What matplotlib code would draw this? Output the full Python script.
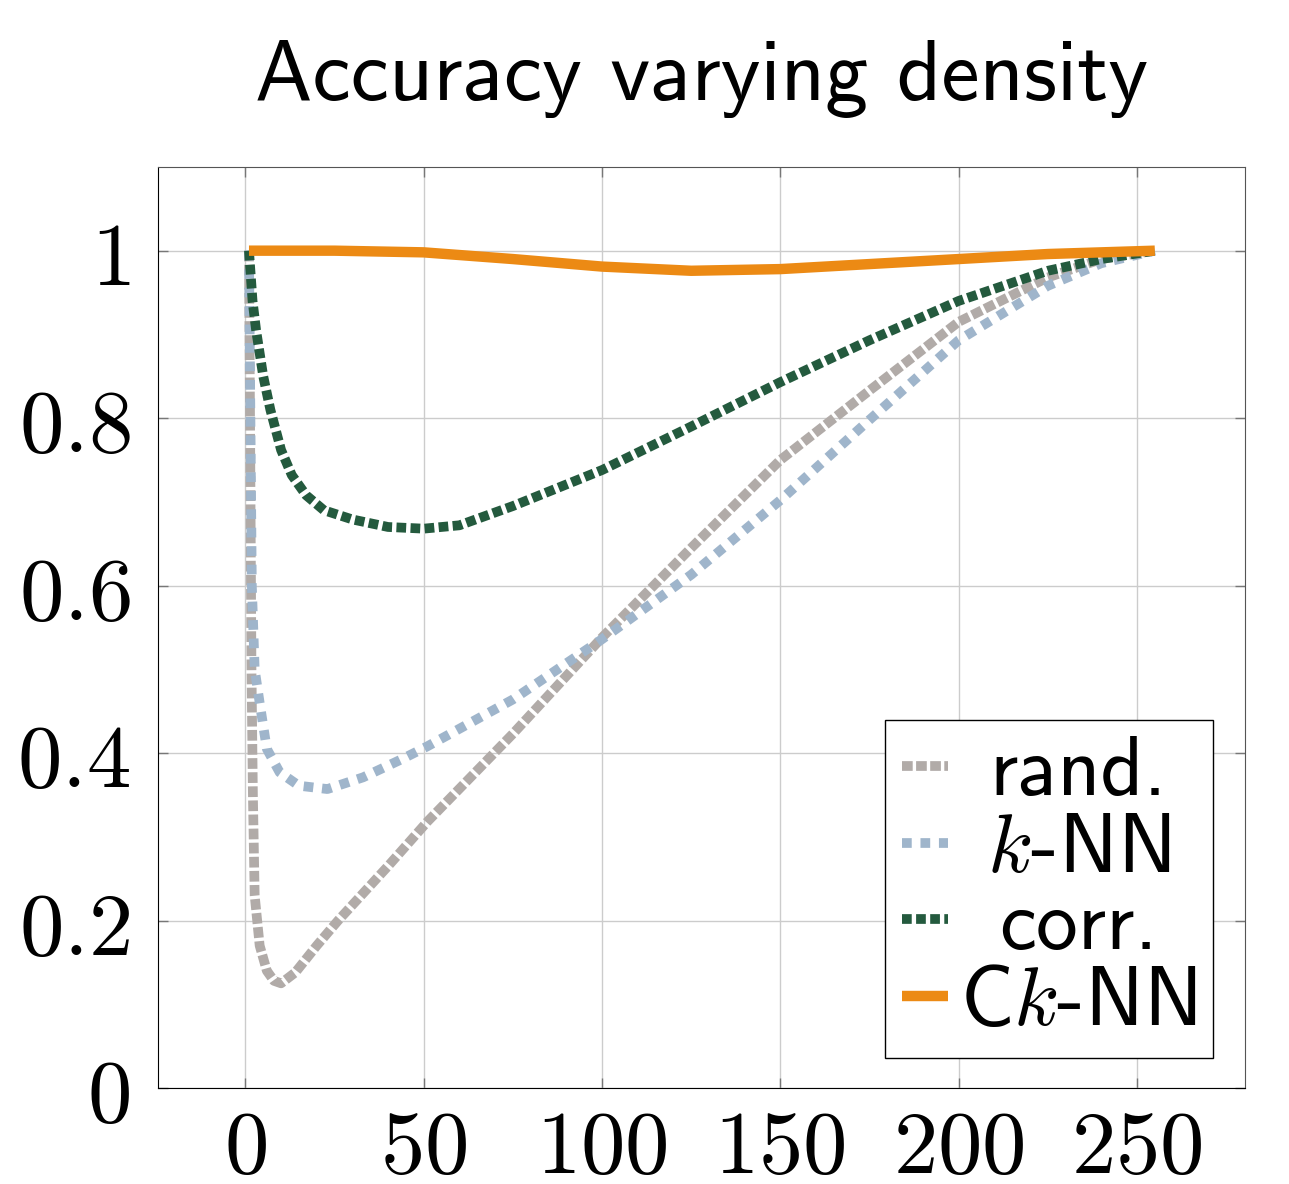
#!/usr/bin/env python3

"""Accuracy vs. density plot."""

import matplotlib
matplotlib.use('Agg')
import matplotlib.pyplot as plt
from matplotlib.ticker import FuncFormatter

# values
rand_x = [1, 1.3, 1.7, 2.1, 2.6, 4, 6, 8, 10, 14, 20, 26, 40, 51, 75, 100, 125, 150, 175, 200, 225, 240, 255]
rand_y = [1.0, 0.8, 0.5, 0.35, 0.23, 0.17, 0.14, 0.128, 0.125, 0.138, 0.17, 0.2, 0.265, 0.318, 0.423, 0.538,
          0.645, 0.75, 0.833, 0.915, 0.968, 0.99, 1.0]

knn_x = [1, 1.3, 1.8, 2.6, 4, 6, 9.6, 15, 23, 33, 44, 51, 75, 100, 125, 150, 175, 200, 225, 240, 255]
knn_y = [1.0, 0.85, 0.6, 0.5, 0.46, 0.405, 0.377, 0.361, 0.357, 0.371, 0.393, 0.408, 0.464, 0.536,
         0.613, 0.702, 0.798, 0.893, 0.958, 0.985, 1.0]

corr_x = [1, 2, 3, 5, 7, 10, 13, 17, 22, 30, 40, 50, 60, 75, 100, 125, 150, 175, 200, 225, 240, 255]
corr_y = [1.0, 0.94, 0.905, 0.85, 0.81, 0.762, 0.732, 0.708, 0.69, 0.679, 0.67, 0.668, 0.672, 0.695, 0.738,
          0.79, 0.843, 0.893, 0.94, 0.976, 0.99, 1.0]

cknn_x = [1, 25, 50, 75, 100, 125, 150, 175, 200, 225, 255]
cknn_y = [1.0, 1.0, 0.998, 0.99, 0.981, 0.976, 0.978, 0.984, 0.99, 0.996, 1.0]

labels = ['rand.', '$k$-NN', 'corr.', 'C$k$-NN']
colors = ['#b1aba8', '#9fb5cb', '#245a3e', '#ec8a14']
xticks = [0, 50, 100, 150, 200, 250]
yticks = [0, 0.2, 0.4, 0.6, 0.8, 1]


def main():
    plt.rcParams['mathtext.fontset'] = 'cm'

    fig = plt.figure(figsize=(12.89, 11.84), dpi=100)
    ax = fig.add_axes([0.1226, 0.0811, 0.8433, 0.7779])

    ax.plot(rand_x, rand_y, color=colors[0], lw=7, dashes=(1.1, 0.35), dash_capstyle='butt', label=labels[0])
    ax.plot(knn_x, knn_y, color=colors[1], lw=7, dashes=(1.0, 0.9), dash_capstyle='butt', label=labels[1])
    ax.plot(corr_x, corr_y, color=colors[2], lw=7, dashes=(1.0, 0.45), dash_capstyle='butt', label=labels[2])
    ax.plot(cknn_x, cknn_y, color=colors[3], lw=7.5, solid_capstyle='butt', label=labels[3])

    ax.set_xlim(-24.5, 280.3)
    ax.set_ylim(0, 1.1)
    ax.set_xticks(xticks)
    ax.set_yticks(yticks)
    ax.xaxis.set_major_formatter(FuncFormatter(lambda v, p: f'${v:g}$'))
    ax.yaxis.set_major_formatter(FuncFormatter(lambda v, p: f'${v:g}$'))
    ax.tick_params(labelsize=64, direction='in', length=7, width=1, color='#777777',
                   top=True, right=True)
    ax.tick_params(axis='x', pad=12)
    ax.tick_params(axis='y', pad=20)
    ax.grid(True, color='#cccccc', lw=1)
    ax.set_axisbelow(True)
    for side in ['left', 'bottom']:
        ax.spines[side].set_color('black')
    for side in ['top', 'right']:
        ax.spines[side].set_color('#555555')

    ax.set_title('Accuracy varying density', fontfamily='cmss10', fontsize=62, pad=48)

    leg = ax.legend(loc='lower right', bbox_to_anchor=(0.9706, 0.0326), prop={'family': 'cmss10', 'size': 60},
                    handlelength=0.55, handletextpad=0.15, labelspacing=0.02, borderpad=0.2,
                    borderaxespad=0, fancybox=False, framealpha=1, edgecolor='black')
    leg.get_frame().set_linewidth(1)

    # centre the legend labels in their column, like pgfplots does
    fig.canvas.draw()
    widths = [t.get_window_extent().width for t in leg.get_texts()]
    for t, w in zip(leg.get_texts(), widths):
        t.set_x((max(widths) - w) / 2)

    fig.savefig('out.png', dpi=100)


if __name__ == '__main__':
    main()
